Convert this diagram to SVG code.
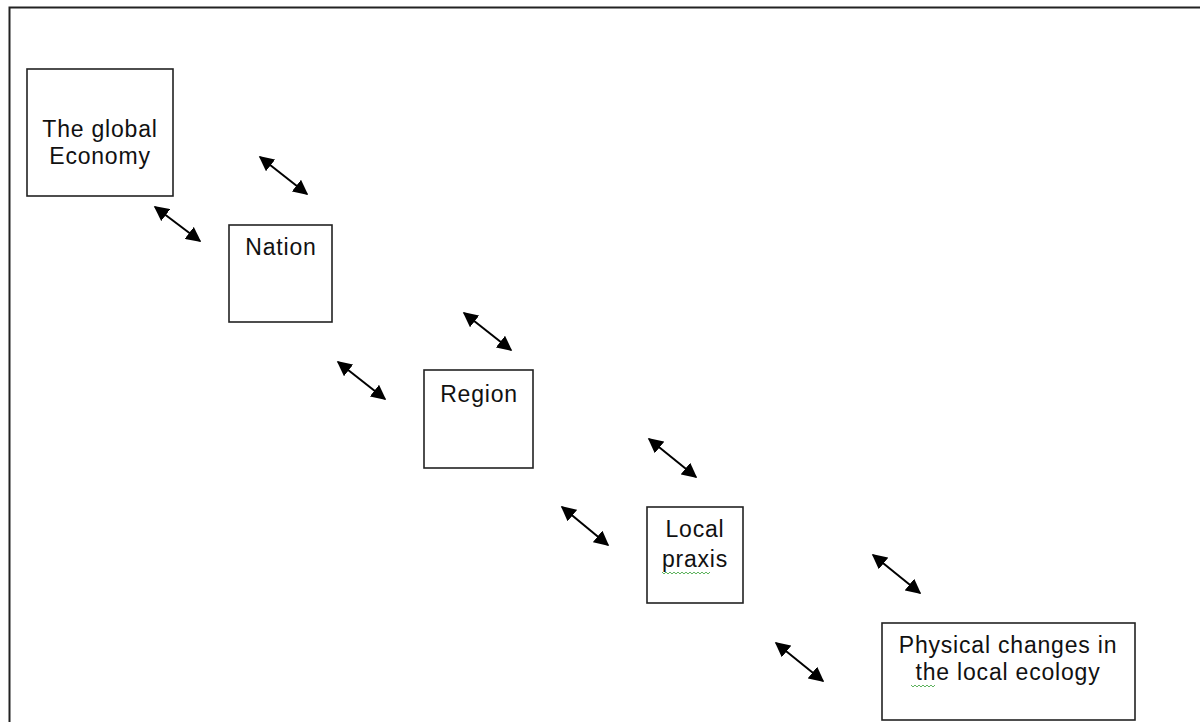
<svg xmlns="http://www.w3.org/2000/svg" width="1200" height="722" viewBox="0 0 1200 722">
  <defs>
    <marker id="head" viewBox="0 0 10 10" refX="9" refY="5" markerWidth="7.5" markerHeight="7.5" markerUnits="strokeWidth" orient="auto-start-reverse">
      <path d="M0,0 L10,5 L0,10 Z" fill="#000"/>
    </marker>
    <style>
      .box { fill: #fff; stroke: #222; stroke-width: 1.6; }
      .label { font-family: "Liberation Sans", Arial, sans-serif; font-size: 23px; letter-spacing: 0.8px; fill: #111; text-anchor: middle; }
      .link { stroke: #000; stroke-width: 2; fill: none; marker-start: url(#head); marker-end: url(#head); }
      .squiggle { stroke: #5fb35f; stroke-width: 1; fill: none; }
    </style>
  </defs>

  <rect width="1200" height="722" fill="#fff"/>
  <!-- outer frame -->
  <path d="M9.5,722 V7.5 H1200" fill="none" stroke="#222" stroke-width="2"/>

  <g id="global-economy">
    <rect class="box" x="27" y="69" width="146" height="127"/>
    <text class="label" x="100" y="137">The global</text>
    <text class="label" x="100" y="164">Economy</text>
  </g>

  <g id="nation">
    <rect class="box" x="229" y="225" width="103" height="97"/>
    <text class="label" x="281" y="255">Nation</text>
  </g>

  <g id="region">
    <rect class="box" x="424" y="370" width="109" height="98"/>
    <text class="label" x="479" y="402">Region</text>
  </g>

  <g id="local-praxis">
    <rect class="box" x="647" y="507" width="96" height="96"/>
    <text class="label" x="695" y="537">Local</text>
    <text class="label" x="695" y="567">praxis</text>
    <path class="squiggle" d="M662,572 l2,2 l2,-2 l2,2 l2,-2 l2,2 l2,-2 l2,2 l2,-2 l2,2 l2,-2 l2,2 l2,-2 l2,2 l2,-2 l2,2 l2,-2 l2,2 l2,-2 l2,2 l2,-2 l2,2 l2,-2 l2,2 l2,-2"/>
  </g>

  <g id="physical-changes">
    <rect class="box" x="882" y="623" width="253" height="97"/>
    <text class="label" x="1008" y="653">Physical changes in</text>
    <text class="label" x="1008" y="680">the local ecology</text>
    <path class="squiggle" d="M911,685 l2,2 l2,-2 l2,2 l2,-2 l2,2 l2,-2 l2,2 l2,-2 l2,2 l2,-2 l2,2 l2,-2"/>
  </g>

  <g id="connectors">
    <line class="link" x1="155" y1="207" x2="200" y2="241"/>
    <line class="link" x1="260" y1="157" x2="307" y2="194"/>
    <line class="link" x1="338" y1="362" x2="385" y2="399"/>
    <line class="link" x1="464" y1="313" x2="511" y2="350"/>
    <line class="link" x1="649" y1="439" x2="696" y2="477"/>
    <line class="link" x1="562" y1="507" x2="608" y2="545"/>
    <line class="link" x1="873" y1="555" x2="920" y2="593"/>
    <line class="link" x1="776" y1="643" x2="823" y2="681"/>
  </g>
</svg>
